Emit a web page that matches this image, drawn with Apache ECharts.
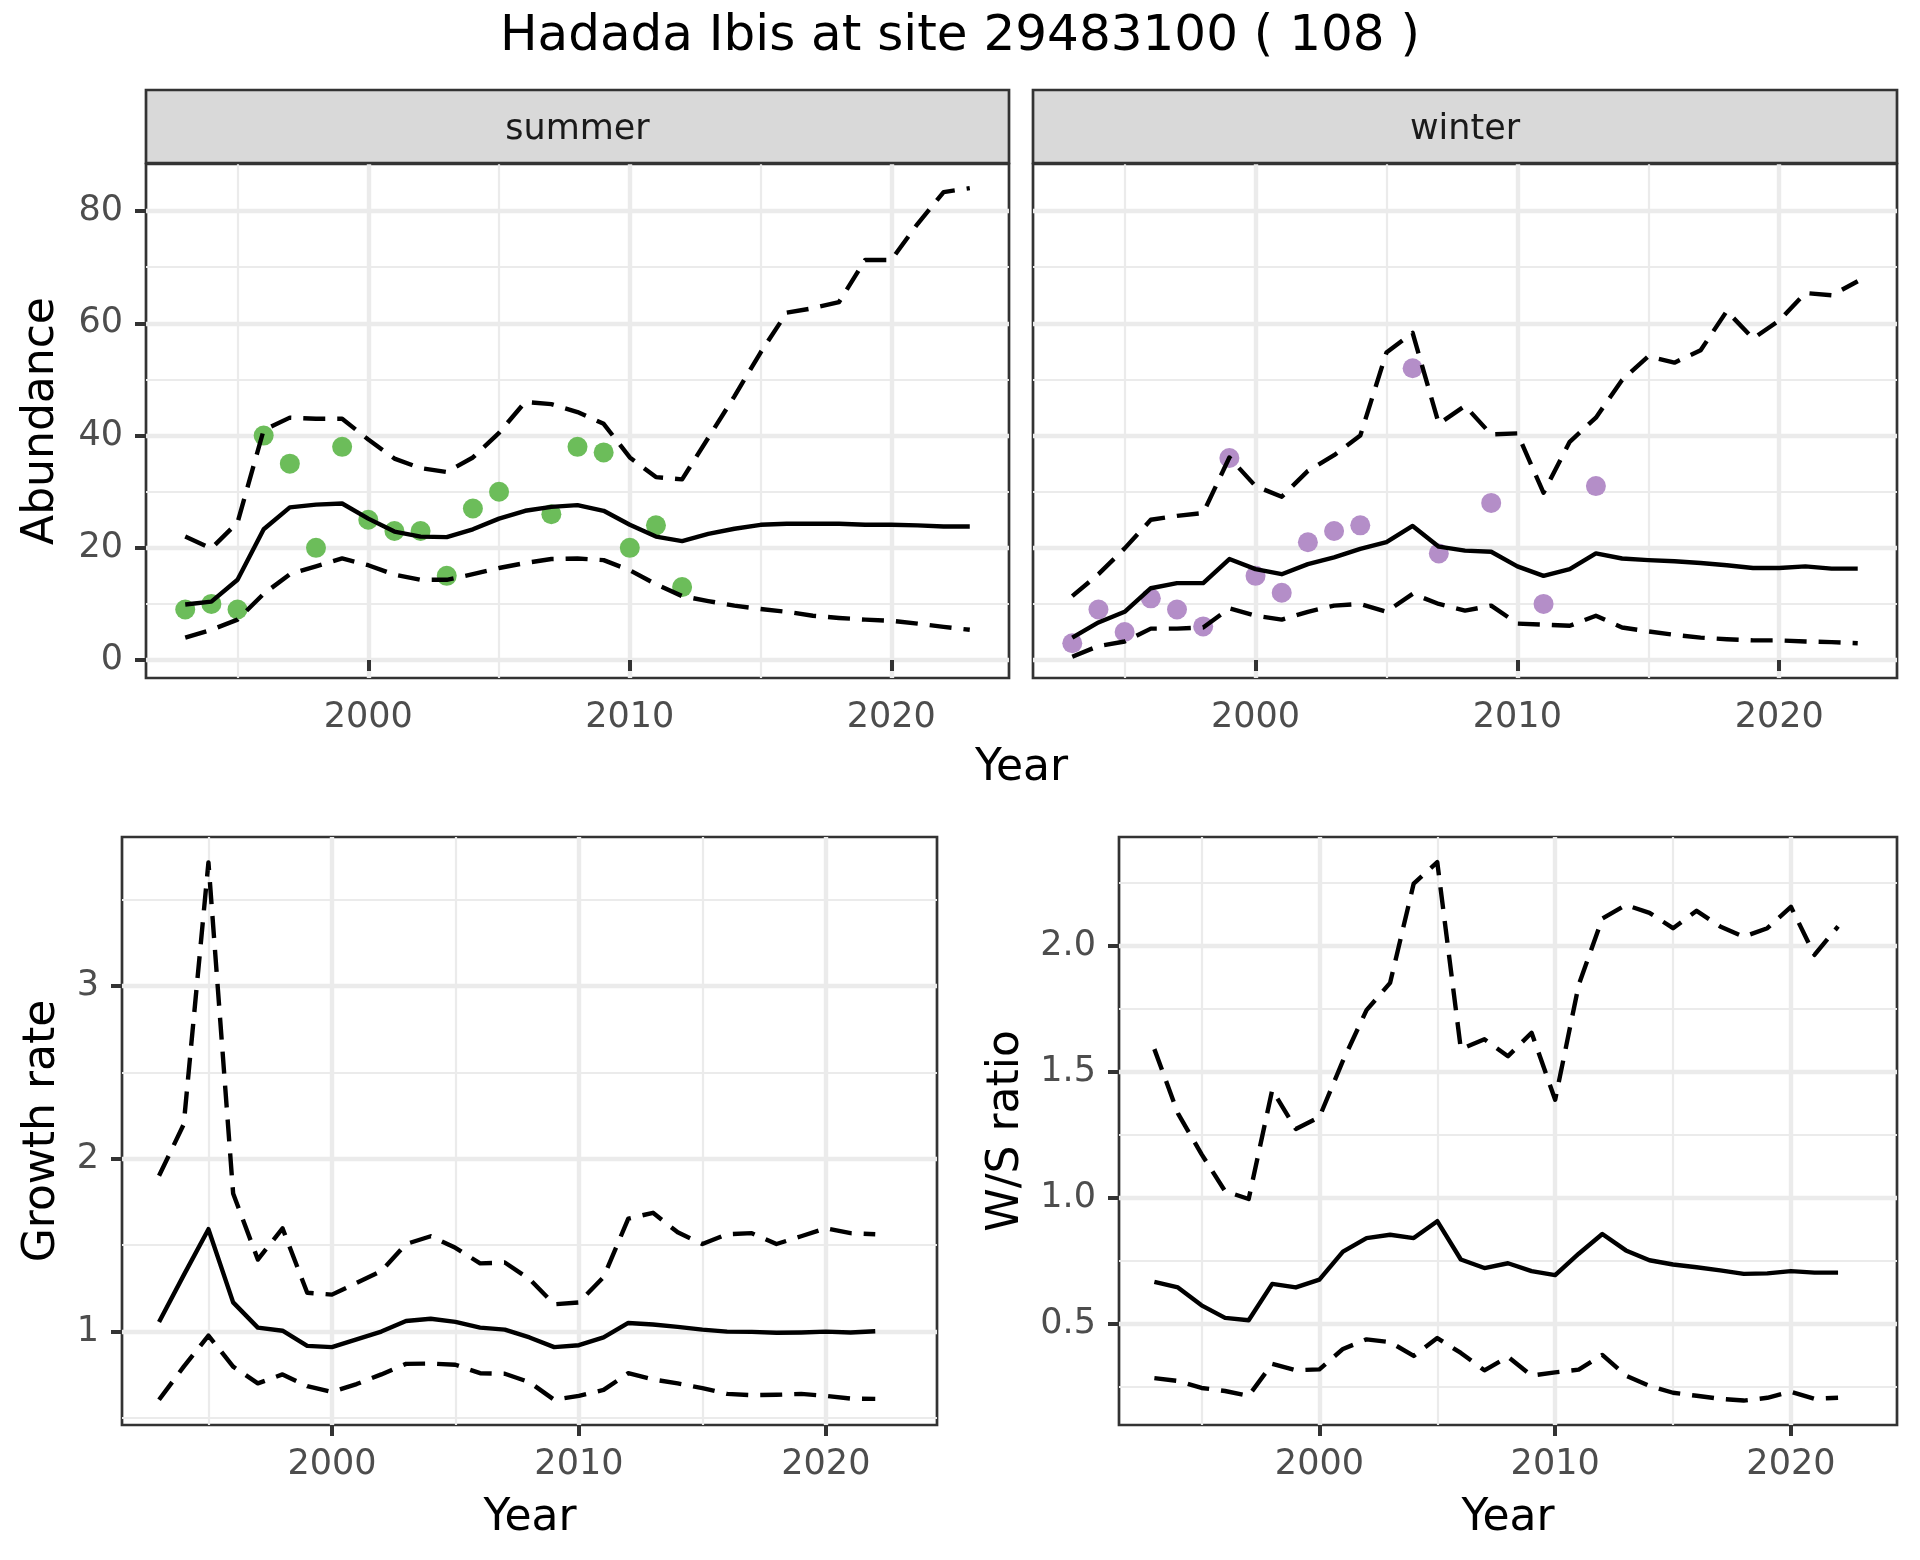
<!DOCTYPE html>
<html>
<head>
<meta charset="utf-8">
<script src="https://cdn.jsdelivr.net/npm/echarts@6/dist/echarts.min.js"></script>
<style>
html,body{margin:0;padding:0;background:#fff;}
#chart{width:1920px;height:1560px;}
</style>
</head>
<body>
<div id="chart"></div>
<script>
// ---------- data ----------
const yearsTop = [1993,1994,1995,1996,1997,1998,1999,2000,2001,2002,2003,2004,2005,2006,2007,2008,2009,2010,2011,2012,2013,2014,2015,2016,2017,2018,2019,2020,2021,2022,2023];
const summerObs   = [9,10,9,40,35,20,38,25,23,23,15,27,30,null,26,38,37,20,24,13,null,null,null,null,null,null,null,null,null,null,null];
const summerMean  = [9.9,10.4,14.3,23.3,27.2,27.7,27.9,25.2,22.9,22.0,21.9,23.3,25.2,26.6,27.3,27.6,26.6,24.1,22.0,21.2,22.5,23.4,24.1,24.3,24.3,24.3,24.1,24.1,24.0,23.8,23.8];
const summerUpper = [22.0,19.9,24.5,41.0,43.2,43.0,43.0,39.3,35.9,34.2,33.5,36.1,40.5,46.0,45.6,44.2,42.1,36.1,32.6,32.2,39.6,47.0,54.8,61.9,62.7,63.8,71.3,71.3,77.7,83.4,84.1];
const summerLower = [4.0,5.4,7.2,11.8,15.3,16.7,18.1,16.9,15.2,14.3,14.3,15.3,16.4,17.3,18.0,18.1,17.8,16.0,13.5,11.4,10.5,9.7,9.1,8.6,7.9,7.5,7.2,7.0,6.5,5.9,5.4];
const winterObs   = [3,9,5,11,9,6,36,15,12,21,23,24,null,52,19,null,28,null,10,null,31,null,null,null,null,null,null,null,null,null,null];
const winterMean  = [4.0,6.7,8.6,12.8,13.7,13.7,18.0,16.2,15.3,17.1,18.3,19.8,21.0,23.9,20.2,19.5,19.3,16.7,15.0,16.2,19.0,18.1,17.8,17.6,17.3,16.9,16.4,16.4,16.7,16.3,16.3];
const winterUpper = [11.4,15.3,19.9,25.0,25.7,26.2,36.1,31.0,29.1,33.7,36.5,40.0,54.8,58.3,42.1,45.3,40.2,40.4,29.8,38.9,43.2,49.9,54.1,53.0,55.2,62.2,57.3,60.5,65.4,65.0,67.5];
const winterLower = [0.6,2.5,3.3,5.6,5.6,5.8,9.2,7.9,7.2,8.6,9.7,10.0,8.6,11.8,10.0,8.8,9.7,6.5,6.3,6.1,7.9,5.8,5.1,4.5,4.0,3.7,3.5,3.5,3.3,3.2,3.0];

const yearsBottom = [1993,1994,1995,1996,1997,1998,1999,2000,2001,2002,2003,2004,2005,2006,2007,2008,2009,2010,2011,2012,2013,2014,2015,2016,2017,2018,2019,2020,2021,2022];
const growthMean  = [1.056,1.327,1.593,1.169,1.023,1.005,0.917,0.910,0.955,1.000,1.061,1.074,1.056,1.023,1.011,0.966,0.910,0.921,0.966,1.050,1.041,1.027,1.011,1.000,0.998,0.993,0.995,1.000,0.995,1.002];
const growthUpper = [1.902,2.200,3.717,1.800,1.417,1.598,1.225,1.214,1.282,1.350,1.507,1.552,1.485,1.395,1.400,1.304,1.158,1.169,1.316,1.654,1.688,1.575,1.507,1.564,1.570,1.507,1.552,1.598,1.570,1.564];
const growthLower = [0.605,0.797,0.977,0.797,0.700,0.752,0.684,0.650,0.696,0.752,0.813,0.815,0.808,0.759,0.756,0.707,0.605,0.628,0.662,0.759,0.723,0.700,0.673,0.639,0.632,0.634,0.639,0.628,0.612,0.610];
const ratioMean   = [0.666,0.644,0.573,0.523,0.514,0.658,0.644,0.675,0.786,0.840,0.853,0.840,0.907,0.755,0.721,0.740,0.709,0.693,0.778,0.856,0.791,0.752,0.735,0.724,0.712,0.698,0.700,0.709,0.703,0.703];
const ratioUpper  = [1.590,1.335,1.173,1.026,0.995,1.428,1.273,1.320,1.544,1.745,1.853,2.247,2.332,1.590,1.629,1.562,1.655,1.389,1.845,2.108,2.162,2.131,2.070,2.139,2.077,2.036,2.070,2.155,1.964,2.077];
const ratioLower  = [0.284,0.273,0.245,0.233,0.214,0.341,0.315,0.319,0.400,0.438,0.427,0.372,0.443,0.384,0.315,0.369,0.294,0.307,0.318,0.376,0.294,0.253,0.226,0.214,0.202,0.195,0.206,0.230,0.202,0.206];

// tick values
const xMajorTicks = [2000, 2010, 2020];
const xMinorTicks = [1995, 2005, 2015];
const abundMajorTicks = [0, 20, 40, 60, 80];
const abundMinorTicks = [10, 30, 50, 70];
const growthMajorTicks = [1, 2, 3];
const growthMinorTicks = [0.5, 1.5, 2.5, 3.5];
const ratioMajorTicks = [0.5, 1.0, 1.5, 2.0];
const ratioMinorTicks = [0.25, 0.75, 1.25, 1.75, 2.25];

// ---------- helpers ----------
const FONT = 'DejaVu Sans';
const GRID_COLOR = '#EBEBEB';
const DARK = '#333333';

function pairs(xs, ys) {
  const out = [];
  for (let i = 0; i < xs.length; i++) if (ys[i] !== null && ys[i] !== undefined) out.push([xs[i], ys[i]]);
  return out;
}

const grids = [
  {left:146, top:164, width:863, height:514},
  {left:1033, top:164, width:864, height:514},
  {left:122, top:837, width:815, height:588},
  {left:1119, top:837, width:778, height:588}
].map(g => Object.assign({show:true, borderColor:DARK, borderWidth:2.7, backgroundColor:'#fff', containLabel:false, outerBoundsMode:'none'}, g));

const xAxes = [], yAxes = [];
function addX(gi) {
  xAxes.push({
    type:'value', gridIndex:gi, min:1991.5, max:2024.5,
    axisLine:{show:false},
    axisTick:{show:true, length:11, customValues:xMajorTicks, lineStyle:{color:DARK, width:4}},
    axisLabel:{show:true, customValues:xMajorTicks, margin:22, color:'#4D4D4D', fontSize:35, fontFamily:FONT,
      formatter: v => String(v)},
    splitLine:{show:true, lineStyle:{color:GRID_COLOR, width:4.4}}
  });
  xAxes.push({
    type:'value', gridIndex:gi, min:1991.5, max:2024.5,
    axisLine:{show:false},
    axisTick:{show:false, customValues:xMinorTicks},
    axisLabel:{show:false, customValues:xMinorTicks},
    splitLine:{show:true, lineStyle:{color:GRID_COLOR, width:2.2}}
  });
}
function addY(gi, min, max, major, minor, showLabels, fmt) {
  yAxes.push({
    type:'value', gridIndex:gi, min:min, max:max,
    axisLine:{show:false},
    axisTick:{show:showLabels, length:11, customValues:major, lineStyle:{color:DARK, width:4}},
    axisLabel:{show:showLabels, customValues:major, margin:23, color:'#4D4D4D', fontSize:35, fontFamily:FONT,
      formatter: fmt || (v => String(v))},
    splitLine:{show:true, lineStyle:{color:GRID_COLOR, width:4.4}}
  });
  yAxes.push({
    type:'value', gridIndex:gi, min:min, max:max,
    axisLine:{show:false},
    axisTick:{show:false, customValues:minor},
    axisLabel:{show:false, customValues:minor},
    splitLine:{show:true, lineStyle:{color:GRID_COLOR, width:2.2}}
  });
}
for (let g = 0; g < 4; g++) addX(g);
addY(0, -3.2, 88.4, abundMajorTicks, abundMinorTicks, true);
addY(1, -3.2, 88.4, abundMajorTicks, abundMinorTicks, false);
addY(2, 0.459, 3.864, growthMajorTicks, growthMinorTicks, true);
addY(3, 0.098, 2.432, ratioMajorTicks, ratioMinorTicks, true, v => v.toFixed(1));

const LW = 4.4;
const DASH = [22, 12];
function lineSeries(gi, xs, ys, dashed) {
  return {
    type:'line', xAxisIndex:2*gi, yAxisIndex:2*gi, data:pairs(xs, ys),
    showSymbol:false, symbol:'none', z:3, silent:true,
    lineStyle:{color:'#000', width:LW, type: dashed ? DASH : 'solid', cap:'butt', join:'round'}
  };
}
function scatterSeries(gi, xs, ys, color) {
  return {
    type:'scatter', xAxisIndex:2*gi, yAxisIndex:2*gi, data:pairs(xs, ys),
    symbol:'circle', symbolSize:20, z:2, silent:true,
    itemStyle:{color:color, opacity:1}
  };
}

const series = [
  scatterSeries(0, yearsTop, summerObs, '#6CBD5A'),
  lineSeries(0, yearsTop, summerMean, false),
  lineSeries(0, yearsTop, summerUpper, true),
  lineSeries(0, yearsTop, summerLower, true),
  scatterSeries(1, yearsTop, winterObs, '#B48EC8'),
  lineSeries(1, yearsTop, winterMean, false),
  lineSeries(1, yearsTop, winterUpper, true),
  lineSeries(1, yearsTop, winterLower, true),
  lineSeries(2, yearsBottom, growthMean, false),
  lineSeries(2, yearsBottom, growthUpper, true),
  lineSeries(2, yearsBottom, growthLower, true),
  lineSeries(3, yearsBottom, ratioMean, false),
  lineSeries(3, yearsBottom, ratioUpper, true),
  lineSeries(3, yearsBottom, ratioLower, true)
];

function txt(text, x, y, size, rot, color) {
  return {type:'text', x:x, y:y, rotation:rot||0, z:10, silent:true,
    style:{text:text, fill:color||'#000', fontSize:size, fontFamily:FONT, align:'center', verticalAlign:'middle'}};
}
const graphic = [
  txt('Hadada Ibis at site 29483100 ( 108 )', 960, 37, 50),
  {type:'rect', shape:{x:146, y:90, width:863, height:73}, z:5, silent:true, style:{fill:'#D9D9D9', stroke:DARK, lineWidth:2.7}},
  {type:'rect', shape:{x:1033, y:90, width:864, height:73}, z:5, silent:true, style:{fill:'#D9D9D9', stroke:DARK, lineWidth:2.7}},
  txt('summer', 577.5, 130, 35, 0, '#1A1A1A'),
  txt('winter', 1465, 130, 35, 0, '#1A1A1A'),
  txt('Abundance', 42, 421, 44, Math.PI/2),
  txt('Year', 1021.5, 769, 44),
  txt('Growth rate', 43, 1131, 44, Math.PI/2),
  txt('Year', 530, 1519, 44),
  txt('W/S ratio', 1007, 1131, 44, Math.PI/2),
  txt('Year', 1508, 1519, 44)
];

const chart = echarts.init(document.getElementById('chart'), null, {renderer:'canvas'});
chart.setOption({
  animation:false,
  backgroundColor:'#fff',
  grid:grids,
  xAxis:xAxes,
  yAxis:yAxes,
  series:series,
  graphic:graphic
});
</script>
</body>
</html>
